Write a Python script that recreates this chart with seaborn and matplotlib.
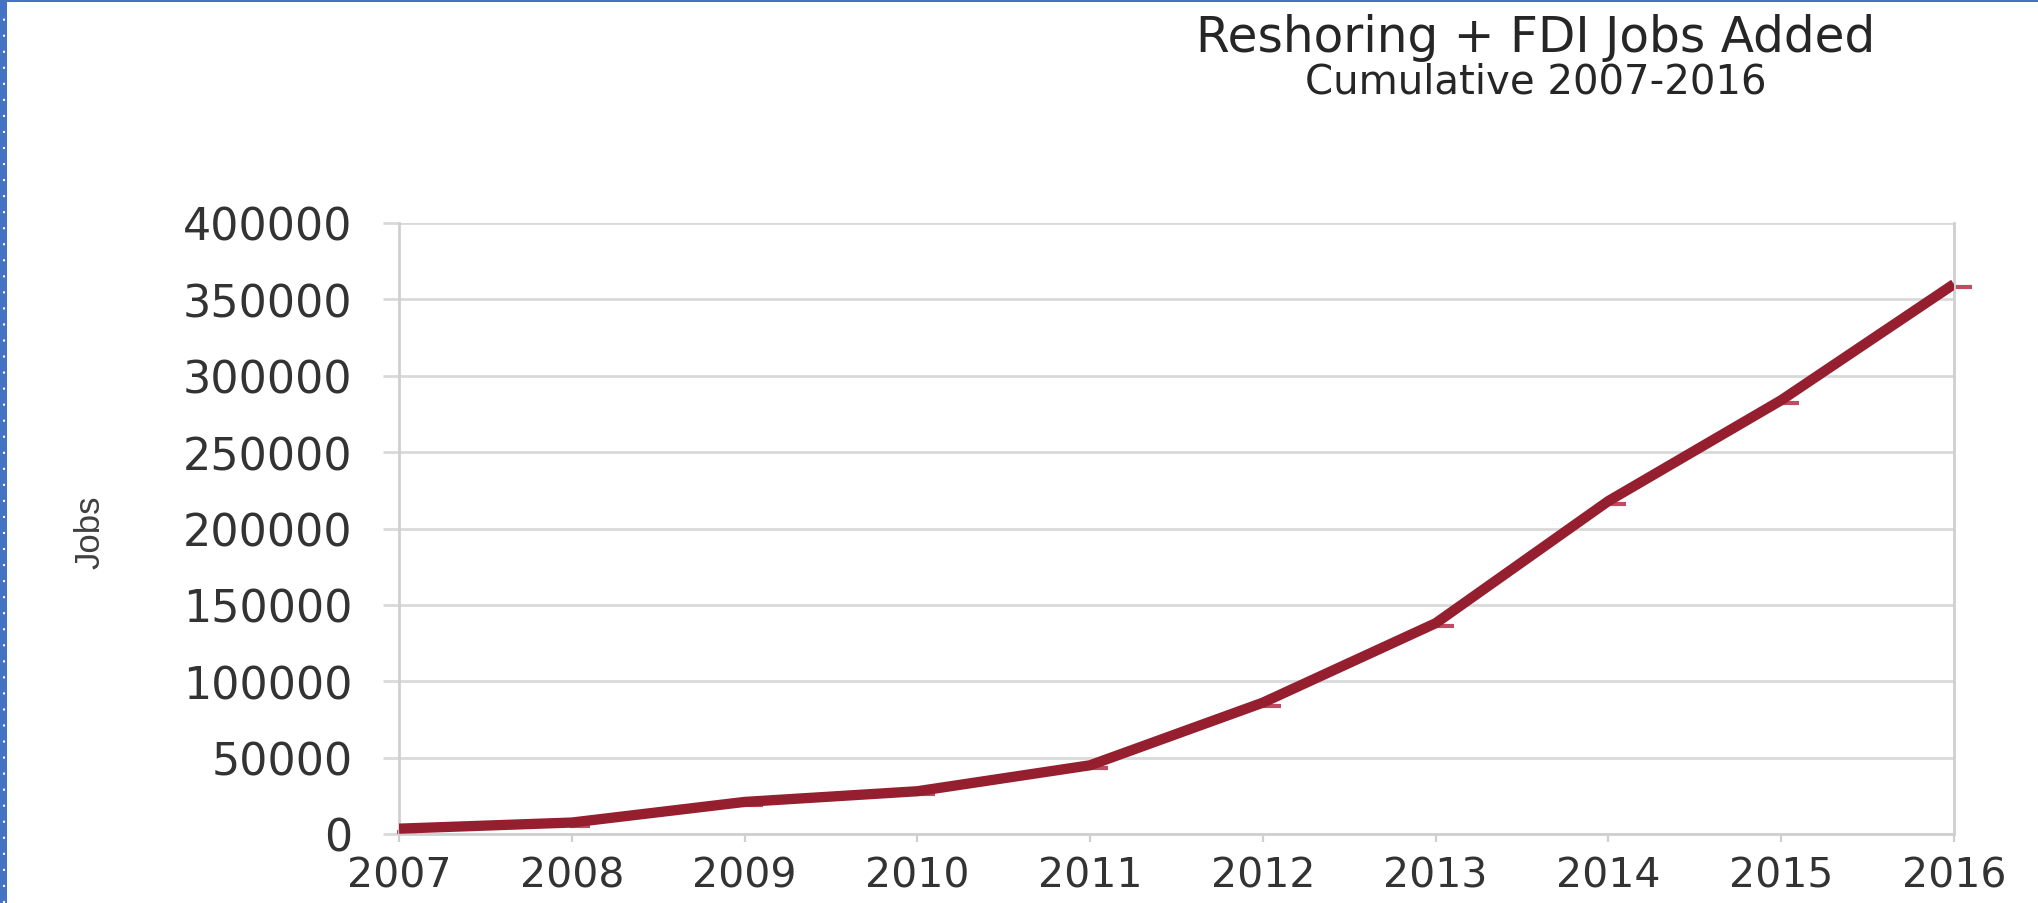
import matplotlib
matplotlib.use("Agg")
import matplotlib.pyplot as plt
import seaborn as sns
import pandas as pd
from matplotlib.path import Path
from matplotlib.markers import MarkerStyle
from matplotlib.lines import Line2D
from matplotlib.patches import Rectangle
from matplotlib import font_manager

# ---- data ----
years = [2007, 2008, 2009, 2010, 2011, 2012, 2013, 2014, 2015, 2016]
jobs = [3500, 7500, 21000, 28000, 45000, 86000, 138000, 218000, 284000, 360000]
y_ticks = [0, 50000, 100000, 150000, 200000, 250000, 300000, 350000, 400000]
title = "Reshoring + FDI Jobs Added"
subtitle = "Cumulative 2007-2016"
y_label = "Jobs"

df = pd.DataFrame({"year": years, "jobs": jobs})

sns.set_theme(style="white")
plt.rcParams["font.family"] = ["DejaVu Sans"]

W, H = 2038, 904
fig = plt.figure(figsize=(W / 100, H / 100), dpi=100)
fig.patch.set_facecolor("white")
ax = fig.add_axes([399 / W, (H - 835) / H, (1954 - 399) / W, (835 - 224) / H])

line_color = "#951E2F"
marker_color = "#C24A62"

# faint offset dash markers (as in the source rendering)
mpath = Path([(-0.1, -0.15), (1.0, -0.15)], [Path.MOVETO, Path.LINETO])
sns.lineplot(data=df, x="year", y="jobs", ax=ax, linewidth=0,
             marker=MarkerStyle(mpath), markersize=26, markeredgewidth=3,
             markeredgecolor=marker_color, markerfacecolor="none", zorder=2,
             clip_on=False)
sns.lineplot(data=df, x="year", y="jobs", ax=ax, color=line_color,
             linewidth=7.4, zorder=3, solid_capstyle="butt")

ax.set_xlim(2007, 2016)
ax.set_ylim(0, 400000)
ax.set_xticks(years)
ax.set_xticklabels([str(y) for y in years])
ax.set_yticks(y_ticks)
ax.set_yticklabels([str(v) for v in y_ticks])
ax.set_xlabel("")
ax.set_ylabel("")

grid_c = "#D9D9D9"
ax.yaxis.grid(True, color=grid_c, linewidth=2.0)
ax.xaxis.grid(False)
ax.set_axisbelow(True)
for side in ["left", "right", "bottom"]:
    ax.spines[side].set_visible(True)
    ax.spines[side].set_color("#CFCFCF")
    ax.spines[side].set_linewidth(2.0)
ax.spines["top"].set_visible(False)

ax.tick_params(axis="y", which="major", left=True, length=11.5, width=2.0,
               color=grid_c, pad=22, labelsize=32, labelcolor="#333333")
ax.tick_params(axis="x", which="major", bottom=True, length=5.8, width=1.6,
               color="#CFCFCF", pad=9.5, labelsize=29.5, labelcolor="#333333")

# y label ("Jobs") in a narrow font if available
names = {f.name for f in font_manager.fontManager.ttflist}
if "Liberation Sans Narrow" in names:
    jfam, jsize = ["Liberation Sans Narrow"], 29
else:
    jfam, jsize = ["Liberation Sans"], 25
fig.text(90 / W, 1 - 532 / H, y_label, rotation=90, ha="center", va="center",
         fontsize=jsize, family=jfam, color="#404040")

# titles
fig.text(1536 / W, 1 - 52 / H, title, ha="center", va="baseline",
         fontsize=35, color="#262626", family=["DejaVu Sans"])
fig.text(1536 / W, 1 - 93 / H, subtitle, ha="center", va="baseline",
         fontsize=29, color="#262626", family=["DejaVu Sans"])

# blue slide border (left dotted strip and top line)
blue = "#4472C4"
fig.add_artist(Rectangle((0, 0), 7 / W, 1, transform=fig.transFigure,
                         facecolor=blue, edgecolor="none", zorder=10))
fig.add_artist(Rectangle((0, 1 - 3 / H), 1, 3 / H, transform=fig.transFigure,
                         facecolor=blue, edgecolor="none", zorder=10))
fig.add_artist(Line2D([3.5 / W, 3.5 / W], [0, 1 - 6 / H], transform=fig.transFigure,
                      color="white", linewidth=1.5, linestyle=(0, (1.0, 6.7)),
                      zorder=11))

fig.savefig("out.png", dpi=100, facecolor="white")
